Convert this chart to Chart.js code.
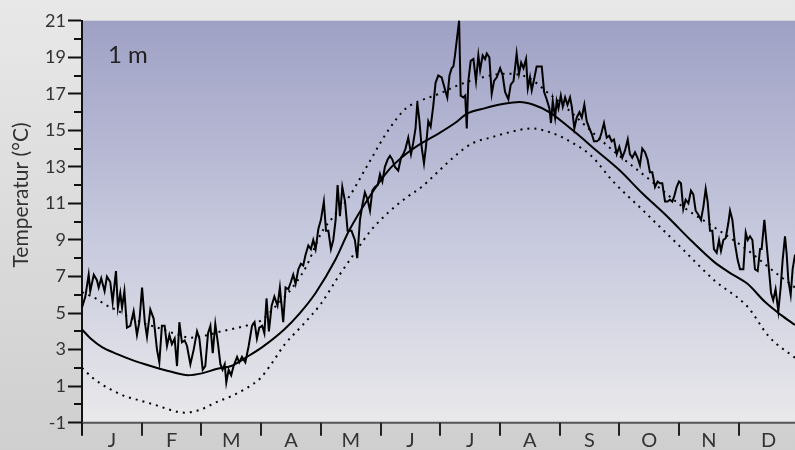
<!DOCTYPE html>
<html>
<head>
<meta charset="utf-8">
<script src="https://cdn.jsdelivr.net/npm/chart.js@4/dist/chart.umd.min.js"></script>
<style>
  html, body { margin: 0; padding: 0; background: #e4e4e4; }
  #wrap { width: 795px; height: 450px; position: relative; }
</style>
</head>
<body>
<div id="wrap"><canvas id="c" width="795" height="450"></canvas></div>
<script>
// Month initials along the time axis (year split into 12 equal parts)
const monthLabels = ['J', 'F', 'M', 'A', 'M', 'J', 'J', 'A', 'S', 'O', 'N', 'D'];
const yearDays = 365;

// Labelled temperature ticks (°C)
const yTicks = [-1, 1, 3, 5, 7, 9, 11, 13, 15, 17, 19, 21];

// Observed daily temperature at 1 m (day of year, °C)
const dailyDays = [
  0, 1.7, 3.4, 4.2, 6, 7.6, 8.5, 9.8, 11.5, 12.7, 14.4, 15.6, 17.3, 18.3, 19.5, 20.4, 21.6, 22.9, 24.6, 26.3,
  28, 29.2, 30.6, 32, 33.1, 34.8, 36.5, 38.2, 39.4, 40.7, 42.1, 43.3, 44.5, 45.8, 47.2, 48.4, 49.6, 50.9, 52.3, 53.5,
  55.2, 56.9, 58.6, 59.8, 61.5, 62.8, 64.2, 65.4, 66.6, 67.9, 69.3, 70.5, 71.6, 72.7, 73.5, 74.7, 76, 77.2, 79, 80.1,
  81.5, 83.2, 84.9, 86.6, 87.9, 89.1, 90.3, 91.8, 92.9, 94, 95.2, 96.6, 98, 99.6, 100.8, 102.5, 103.7, 105.1, 106.4, 107.6,
  108.8, 110.2, 111.5, 112.7, 113.9, 115.3, 116.6, 117.8, 119, 120.4, 121.7, 123.2, 124.3, 125.5, 126.8, 128, 129.2, 130.2, 131.4, 132.6,
  134, 135.3, 137.3, 139, 140.2, 141.6, 142.8, 144.1, 145.5, 146.7, 147.9, 149.2, 150.6, 151.8, 153, 154.3, 155.7, 156.9, 158.1, 159.4,
  161.1, 162.5, 163.7, 164.8, 166.2, 167.6, 168.7, 169.9, 170.8, 171.8, 173, 174.2, 175.2, 176.4, 177.6, 178.9, 180.1, 181.5, 183.2, 185,
  186.1, 187.2, 188.3, 189.2, 190, 191.2, 192.1, 192.9, 194.3, 195.2, 196, 196.8, 198, 199.4, 200.7, 201.9, 202.8, 204.1, 205.3, 206.2,
  207.5, 208.7, 209.9, 211.3, 213, 214.3, 215.5, 217.2, 218.4, 219.8, 220.6, 221.4, 222.6, 223.7, 224.9, 226.2, 227.1, 228.2, 229.1, 230.3,
  231.6, 233.3, 234.2, 235.4, 236.7, 238.1, 238.9, 239.8, 241, 241.8, 242.7, 243.9, 244.9, 246.1, 247.3, 248.6, 249.5, 250.8, 252, 253.4,
  254.6, 255.9, 257.1, 258.5, 259.7, 260.8, 262.2, 263.6, 264.7, 265.9, 267.3, 268.6, 269.8, 271, 272.4, 273.7, 275.2, 276.6, 278, 279.1,
  280.3, 281.7, 283, 284.2, 285.4, 286.8, 288.1, 289.3, 290.5, 291.9, 293.2, 294.4, 295.6, 297, 298.3, 299.5, 300.7, 301.7, 302.9, 304.1,
  305.1, 306.3, 307.5, 308.9, 310.2, 311.4, 312.6, 313.9, 315.3, 316.5, 317.7, 318.7, 319.9, 321.1, 321.9, 323.3, 324.5, 325.5, 326.7, 327.9,
  329.2, 330.1, 331.3, 332.6, 334, 335.2, 336.9, 338.1, 339.1, 340.3, 341.5, 342.8, 344.2, 345.4, 346.2, 347.6, 348.7, 349.9, 351, 352.1,
  353.3, 354.7, 355.9, 356.9, 358.1, 358.9, 359.8, 361, 362, 363.2
];
const dailyTemp = [
  5.3, 5.9, 7.1, 6.2, 7.1, 6.8, 6.4, 6.9, 6.2, 7.0, 6.7, 5.6, 7.3, 5.3, 6.1, 5.3, 6.2, 4.2, 4.3, 5.1,
  3.8, 4.5, 6.4, 4.5, 3.7, 5.2, 4.7, 3.0, 2.3, 4.3, 4.3, 3.2, 3.8, 3.3, 3.6, 2.1, 4.5, 3.4, 3.5, 3.2,
  2.2, 3.0, 4.0, 3.6, 1.9, 2.1, 3.9, 4.3, 2.8, 4.4, 3.3, 2.2, 1.9, 2.2, 1.2, 1.9, 1.6, 2.1, 2.6, 2.3,
  2.6, 2.3, 3.2, 4.3, 4.5, 3.6, 4.2, 4.3, 3.9, 5.8, 4.0, 5.4, 5.9, 5.4, 6.4, 4.5, 6.4, 6.3, 6.7, 7.1,
  6.6, 7.4, 7.7, 7.6, 8.2, 8.7, 8.5, 9.0, 8.5, 9.6, 10.1, 11.1, 9.5, 9.5, 8.5, 9.0, 10.1, 12.0, 10.3, 11.9,
  11.1, 9.5, 9.5, 9.0, 8.0, 10.1, 10.9, 11.6, 11.2, 10.6, 11.7, 11.9, 12.0, 12.6, 12.2, 13.0, 13.4, 13.6, 13.4, 13.0,
  12.8, 13.5, 13.7, 14.0, 14.6, 13.7, 14.3, 15.1, 16.5, 15.6, 14.1, 13.2, 14.1, 15.5, 15.2, 16.3, 17.6, 18.0, 17.9, 17.2,
  16.8, 18.0, 18.4, 18.5, 19.1, 20.2, 21.0, 16.9, 16.8, 16.9, 15.1, 17.7, 18.8, 18.9, 17.7, 19.1, 18.3, 19.1, 18.9, 19.2,
  19.0, 17.0, 17.7, 17.9, 18.4, 18.0, 17.1, 16.7, 17.5, 17.7, 18.4, 19.2, 18.1, 18.7, 18.4, 18.9, 17.3, 17.9, 17.2, 17.8,
  18.5, 18.5, 18.5, 17.1, 16.7, 16.2, 15.4, 16.6, 15.7, 16.6, 16.2, 16.9, 16.3, 16.8, 16.4, 16.8, 16.3, 15.1, 15.7, 16.0,
  15.7, 16.4, 15.5, 15.1, 14.8, 14.4, 14.4, 14.5, 14.9, 15.4, 14.6, 14.7, 14.4, 14.5, 13.7, 14.1, 13.5, 13.9, 14.5, 13.7,
  13.5, 13.8, 13.5, 13.1, 14.0, 13.8, 13.4, 12.7, 12.7, 11.9, 12.2, 12.1, 12.1, 11.1, 11.1, 11.2, 11.1, 11.4, 11.9, 12.2,
  12.1, 10.7, 11.2, 11.0, 11.7, 11.5, 10.6, 10.4, 10.1, 10.8, 11.8, 11.1, 9.5, 9.5, 8.5, 8.3, 9.0, 8.4, 9.0, 9.1,
  9.9, 10.6, 10.1, 8.8, 7.9, 7.4, 7.4, 9.4, 9.0, 9.2, 9.0, 7.4, 7.3, 8.5, 8.5, 10.1, 8.8, 7.4, 6.1, 5.7,
  6.3, 5.1, 6.4, 7.9, 9.2, 8.3, 6.8, 6.0, 7.4, 8.2
];

// Long-term mean
const meanDays = [0, 5, 10, 18, 25, 35, 45, 54, 61, 69, 76, 84, 92, 103, 111, 119, 129, 136, 146, 156, 165, 173, 182,
  190, 196, 205, 215, 223, 230, 238, 250, 262, 274, 285, 298, 310, 322, 330, 339, 348, 356, 363.2];
const meanTemp = [4.1, 3.55, 3.15, 2.75, 2.45, 2.1, 1.8, 1.6, 1.7, 1.95, 2.1, 2.6, 3.15, 4.1, 5.0, 6.1, 7.9, 9.5, 11.3, 12.8, 13.7, 14.3, 14.85,
  15.4, 15.9, 16.2, 16.45, 16.55, 16.4, 16.0, 15.0, 13.9, 12.8, 11.6, 10.3, 9.0, 7.8, 7.2, 6.6, 5.6, 4.9, 4.35];

// Upper envelope
const upperDays = [0, 7, 12, 17, 22, 30, 40, 48, 55, 62, 71, 85, 92, 98, 105, 114, 122, 129, 136, 146, 156, 165, 173, 182,
  190, 199, 208, 216, 227, 238, 246, 255, 263, 271, 288, 305, 322, 339, 351, 363.2];
const upperTemp = [6.15, 5.8, 5.45, 5.2, 4.9, 4.5, 4.15, 3.85, 3.65, 3.75, 4.0, 4.35, 4.65, 5.3, 6.1, 7.5, 9.4, 10.4, 11.35, 13.2, 15.0, 16.2, 16.65, 17.0,
  17.4, 17.75, 18.0, 18.1, 17.9, 17.0, 16.3, 15.4, 14.6, 13.85, 12.4, 10.9, 9.7, 8.45, 7.4, 6.4];

// Lower envelope
const lowerDays = [0, 5, 10, 15, 22, 30, 38, 45, 52, 60, 68, 77, 84, 91, 97, 103, 112, 122, 130, 139, 147, 156, 165, 173, 182,
  190, 199, 208, 216, 229, 242, 250, 259, 271, 285, 295, 305, 322, 339, 350, 363.2];
const lowerTemp = [2.0, 1.5, 1.1, 0.8, 0.45, 0.2, -0.05, -0.3, -0.45, -0.3, 0.1, 0.5, 0.9, 1.45, 2.3, 3.25, 4.3, 5.55, 6.9, 8.3, 9.5, 10.5, 11.3, 11.9, 12.8,
  13.6, 14.3, 14.6, 14.85, 15.1, 14.75, 14.3, 13.65, 12.15, 10.7, 9.65, 8.6, 6.8, 5.35, 3.7, 2.55];

const pairs = (xs, ys) => xs.map((x, i) => ({ x: x, y: ys[i] }));

const FONT = 'Lato, "Open Sans", sans-serif';
const TEXT = '#333333';

const decor = {
  id: 'decor',
  beforeDraw(chart) {
    const { ctx, chartArea: a, width, height } = chart;
    ctx.save();
    let g = ctx.createLinearGradient(0, 0, 0, height);
    g.addColorStop(0, '#e8e8e8');
    g.addColorStop(1, '#cfcfcf');
    ctx.fillStyle = g;
    ctx.fillRect(0, 0, width, height);

    g = ctx.createLinearGradient(0, a.top, 0, a.bottom);
    g.addColorStop(0, '#9ea1c4');
    g.addColorStop(0.5, '#c4c6dc');
    g.addColorStop(1, '#e9e9eb');
    ctx.fillStyle = g;
    ctx.fillRect(a.left, a.top, a.right - a.left, a.bottom - a.top);
    ctx.restore();
  },
  afterDraw(chart) {
    const { ctx, chartArea: a } = chart;
    const xs = chart.scales.x, ys = chart.scales.y;
    ctx.save();

    // time axis line
    ctx.strokeStyle = '#555';
    ctx.lineWidth = 2;
    ctx.beginPath();
    ctx.moveTo(a.left, a.bottom);
    ctx.lineTo(a.right, a.bottom);
    ctx.stroke();

    // value axis continues below the time axis
    ctx.strokeStyle = '#111';
    ctx.beginPath();
    ctx.moveTo(a.left, a.bottom);
    ctx.lineTo(a.left, a.bottom + 13);
    ctx.stroke();

    // month boundary ticks
    const step = yearDays / monthLabels.length;
    ctx.strokeStyle = '#222';
    for (let i = 1; i < monthLabels.length; i++) {
      const px = Math.round(xs.getPixelForValue(i * step));
      ctx.beginPath();
      ctx.moveTo(px, a.bottom);
      ctx.lineTo(px, a.bottom + 13);
      ctx.stroke();
    }

    // month initials
    ctx.fillStyle = TEXT;
    ctx.font = '20px ' + FONT;
    ctx.textAlign = 'center';
    ctx.textBaseline = 'alphabetic';
    monthLabels.forEach((m, i) => {
      const px = xs.getPixelForValue((i + 0.5) * step);
      ctx.fillText(m, px, a.bottom + 24);
    });

    // minor ticks on the value axis
    ctx.strokeStyle = '#111';
    for (let v = ys.min + 1; v < ys.max; v += 2) {
      const py = Math.round(ys.getPixelForValue(v));
      ctx.beginPath();
      ctx.moveTo(a.left - 8, py);
      ctx.lineTo(a.left, py);
      ctx.stroke();
    }

    // depth label
    ctx.fillStyle = '#222';
    ctx.font = '24px ' + FONT;
    ctx.textAlign = 'left';
    ctx.fillText('1 m', a.left + 26, ys.getPixelForValue(19) + 6);

    // axis title
    ctx.translate(21, 195);
    ctx.rotate(-Math.PI / 2);
    ctx.fillStyle = TEXT;
    ctx.font = '21px ' + FONT;
    ctx.textAlign = 'center';
    ctx.textBaseline = 'middle';
    ctx.fillText('Temperatur (°C)', 0, 0);
    ctx.restore();
  }
};

const lineBase = { borderColor: '#000', pointRadius: 0, fill: false, clip: false };

new Chart(document.getElementById('c'), {
  type: 'line',
  data: {
    datasets: [
      Object.assign({ label: 'Tagesmittel', data: pairs(dailyDays, dailyTemp), borderWidth: 2, tension: 0 }, lineBase),
      Object.assign({ label: 'Mittel', data: pairs(meanDays, meanTemp), borderWidth: 2, cubicInterpolationMode: 'monotone' }, lineBase),
      Object.assign({ label: 'Obergrenze', data: pairs(upperDays, upperTemp), borderWidth: 2, borderDash: [2, 5], cubicInterpolationMode: 'monotone' }, lineBase),
      Object.assign({ label: 'Untergrenze', data: pairs(lowerDays, lowerTemp), borderWidth: 2, borderDash: [2, 5], cubicInterpolationMode: 'monotone' }, lineBase)
    ]
  },
  options: {
    responsive: false,
    animation: false,
    devicePixelRatio: 1,
    layout: { padding: { top: 20.7, bottom: 27.3, left: 0, right: 0 } },
    plugins: { legend: { display: false }, tooltip: { enabled: false } },
    scales: {
      x: { type: 'linear', min: 0, max: 363.2, display: false },
      y: {
        min: -1,
        max: 21,
        afterFit: (s) => { s.width = 82; },
        afterBuildTicks: (s) => { s.ticks = yTicks.map(v => ({ value: v })); },
        grid: { drawOnChartArea: false, drawTicks: true, tickLength: 14, tickWidth: 2, tickColor: '#111' },
        border: { display: true, color: '#111', width: 2 },
        ticks: { padding: 2, color: TEXT, font: { family: FONT, size: 18 } }
      }
    }
  },
  plugins: [decor]
});
</script>
</body>
</html>
